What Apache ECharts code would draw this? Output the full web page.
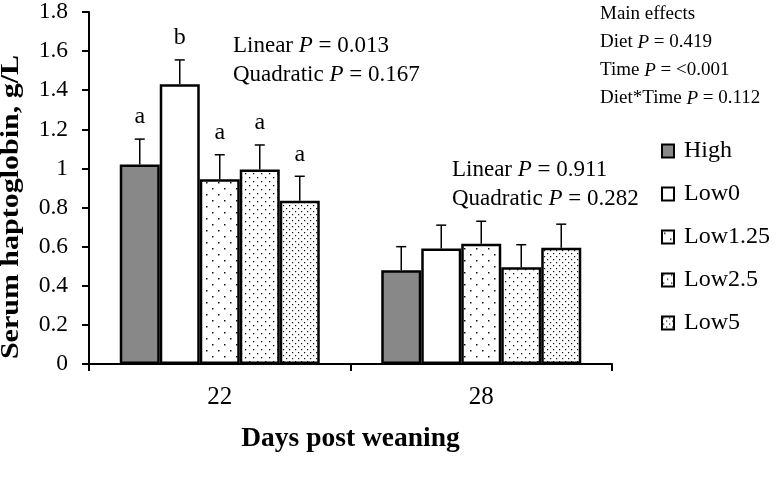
<!DOCTYPE html>
<html><head><meta charset="utf-8">
<script src="https://cdn.jsdelivr.net/npm/echarts@6/dist/echarts.min.js"></script>
<style>html,body{margin:0;padding:0;background:#fff}#c{width:780px;height:484px}</style>
</head><body><div id="c"></div>
<script>
// ---- data ----
const categories = ['22', '28'];
const diets = ['High', 'Low0', 'Low1.25', 'Low2.5', 'Low5'];
const meanHigh   = [1.02, 0.48];
const meanLow0   = [1.43, 0.59];
const meanLow125 = [0.945, 0.615];
const meanLow25  = [0.995, 0.495];
const meanLow5   = [0.835, 0.595];
const seHigh   = [0.13, 0.12];
const seLow0   = [0.125, 0.12];
const seLow125 = [0.125, 0.115];
const seLow25  = [0.125, 0.115];
const seLow5   = [0.125, 0.12];
const lettersHigh   = ['a', ''];
const lettersLow0   = ['b', ''];
const lettersLow125 = ['a', ''];
const lettersLow25  = ['a', ''];
const lettersLow5   = ['a', ''];
const yMin = 0, yMax = 1.8, yStep = 0.2;
const xTitle = 'Days post weaning';
const yTitle = 'Serum haptoglobin, g/L';
const trend22 = ['0.013', '0.167'];
const trend28 = ['0.911', '0.282'];
const mainEffects = [['Diet', '0.419'], ['Time', '<0.001'], ['Diet*Time', '0.112']];

// ---- styles ----
const FONT = 'Liberation Serif';
const BAR_W = 40;
function dots(w, h, pts, size) {
  const c = document.createElement('canvas');
  c.width = w; c.height = h;
  const g = c.getContext('2d');
  g.fillStyle = '#fff'; g.fillRect(0, 0, w, h);
  g.fillStyle = '#111';
  pts.forEach(p => g.fillRect(p[0], p[1], size, size));
  return { image: c, repeat: 'repeat' };
}
const fills = [
  '#888888',
  '#ffffff',
  dots(12, 12, [[2, 2], [8, 8]], 1.5),
  dots(8, 8, [[1, 1], [5, 5]], 1.3),
  dots(6, 6, [[1, 1], [4, 4]], 1.2)
];
const means = [meanHigh, meanLow0, meanLow125, meanLow25, meanLow5];
const ses = [seHigh, seLow0, seLow125, seLow25, seLow5];
const letters = [lettersHigh, lettersLow0, lettersLow125, lettersLow25, lettersLow5];

const barSeries = diets.map((d, i) => ({
  type: 'bar', name: d, data: means[i], barWidth: BAR_W, barGap: '0%',
  itemStyle: { color: fills[i], borderColor: '#000', borderWidth: 2.5 },
  emphasis: { disabled: true }, z: 2
}));
const errSeries = diets.map((d, i) => ({
  type: 'custom', name: d + ' SE', z: 3, silent: true,
  data: categories.map((c, k) => [k, means[i][k], means[i][k] + ses[i][k]]),
  renderItem(params, api) {
    const k = api.value(0);
    const x = api.coord([k, 0])[0] + (i - 2) * BAR_W;
    const yb = api.coord([k, api.value(1)])[1];
    const yt = api.coord([k, api.value(2)])[1];
    const ch = [
      { type: 'line', shape: { x1: x, y1: yb, x2: x, y2: yt }, style: { stroke: '#000', lineWidth: 1.5 } },
      { type: 'line', shape: { x1: x - 5, y1: yt, x2: x + 5, y2: yt }, style: { stroke: '#000', lineWidth: 1.5 } }
    ];
    const L = letters[i][params.dataIndex];
    if (L) ch.push({ type: 'text', style: { text: L, x: x, y: yt - 10, align: 'center', verticalAlign: 'bottom', font: '24px "' + FONT + '"', fill: '#000' } });
    return { type: 'group', children: ch };
  }
}));

function mk(size) {
  return { n: { fontFamily: FONT, fontSize: size, color: '#000' }, i: { fontFamily: FONT, fontSize: size, fontStyle: 'italic', color: '#000' } };
}
const rich = mk(23);
const richS = mk(19);
function pText(label, p) { return '{n|' + label + ' }{i|P}{n| = ' + p + '}'; }
function txt(x, y, text, r) {
  return { type: 'text', left: x, top: y, style: { text: text, rich: r, fill: '#000' } };
}

const chart = echarts.init(document.getElementById('c'), null, { renderer: 'canvas' });
chart.setOption({
  animation: false,
  backgroundColor: '#fff',
  grid: { left: 89, right: 168, top: 12, bottom: 120, containLabel: false },
  xAxis: {
    type: 'category', data: categories,
    axisLine: { lineStyle: { color: '#000', width: 2 } },
    axisTick: { show: true, length: 7, lineStyle: { color: '#000', width: 2 } },
    axisLabel: { color: '#000', fontFamily: FONT, fontSize: 25, margin: 21 },
    name: xTitle, nameLocation: 'middle', nameGap: 61,
    nameTextStyle: { color: '#000', fontFamily: FONT, fontSize: 27.5, fontWeight: 'bold' }
  },
  yAxis: {
    type: 'value', min: yMin, max: yMax, interval: yStep,
    axisLine: { show: true, lineStyle: { color: '#000', width: 2 } },
    axisTick: { show: true, length: 7, lineStyle: { color: '#000', width: 2 } },
    splitLine: { show: false },
    axisLabel: { color: '#000', fontFamily: FONT, fontSize: 23.5, margin: 21 }
  },
  legend: {
    data: diets, orient: 'vertical', left: 656, top: 134,
    itemWidth: 12, itemHeight: 13, itemGap: 19, icon: 'rect',
    itemStyle: { borderColor: '#000', borderWidth: 2 },
    textStyle: { fontFamily: FONT, fontSize: 24, color: '#000', lineHeight: 24, padding: [0, 0, 0, 5] }
  },
  graphic: [
    { type: 'text', x: 12, y: 207, rotation: Math.PI / 2, scaleX: 1.2,
      style: { text: yTitle, font: 'bold 25px "' + FONT + '"', fill: '#000', align: 'center', verticalAlign: 'middle' } },
    txt(233, 34, pText('Linear', trend22[0]), rich),
    txt(233, 63, pText('Quadratic', trend22[1]), rich),
    txt(452, 158, pText('Linear', trend28[0]), rich),
    txt(452, 187, pText('Quadratic', trend28[1]), rich),
    txt(600, 5, '{n|Main effects}', richS),
    ...mainEffects.map((m, j) => txt(600, 33 + j * 28, pText(m[0], m[1]), richS))
  ],
  series: [...barSeries, ...errSeries]
});
</script></body></html>
